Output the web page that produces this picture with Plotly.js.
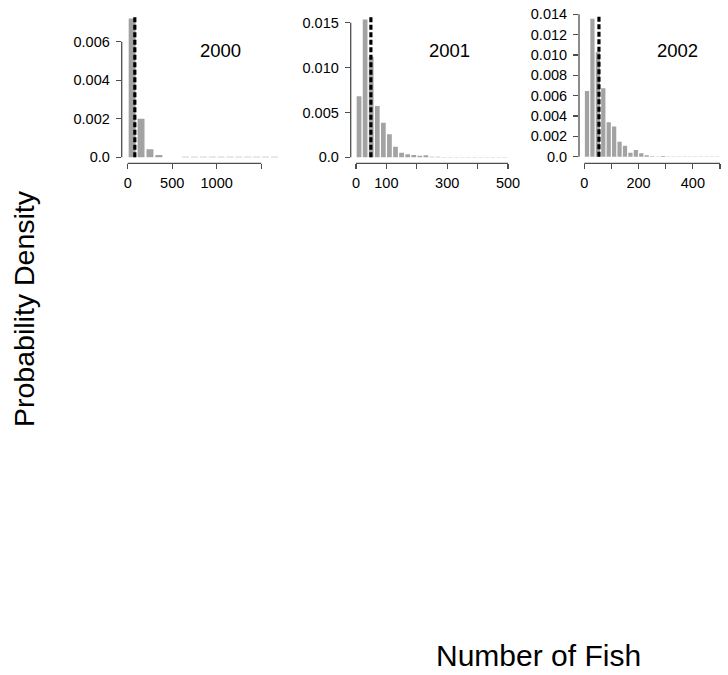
<!DOCTYPE html>
<html>
<head>
<meta charset="utf-8">
<script src="https://cdn.plot.ly/plotly-3.0.1.min.js"></script>
<style>html,body{margin:0;padding:0;background:#fff;}#chart{width:728px;height:675px;}</style>
</head>
<body>
<div id="chart"></div>
<script>
// ---- Data ----
const years = ["2000", "2001", "2002"];

// bin lower edges and densities
const binWidth2000 = 100;
const binStarts2000 = [0,100,200,300,400,500,600,700,800,900,1000,1100,1200,1300,1400,1500,1600];
const density2000 = [0.0072,0.0020,0.00042,0.00012,0.0,0.0,0.00003,0.00003,0.00003,0.00003,0.00003,0.00003,0.00003,0.00003,0.00003,0.00003,0.00003];

const binWidth2001 = 20;
const binStarts2001 = [0,20,40,60,80,100,120,140,160,180,200,220,240,260,280,300,320,340,360,380,400,420,440,460,480];
const density2001 = [0.0068,0.01537,0.0112,0.00573,0.00384,0.00256,0.00118,0.00051,0.00033,0.00027,0.00018,0.00022,0.00005,0.00005,0.00004,0.00004,0.00004,0.00004,0.00004,0.00004,0.00004,0.00004,0.00004,0.00004,0.00004];

const binWidth2002 = 20;
const binStarts2002 = [0,20,40,60,80,100,120,140,160,180,200,220,240,260,280,300,320,340,360,380,400,420,440,460,480];
const density2002 = [0.00647,0.01357,0.01028,0.00674,0.00339,0.00296,0.00148,0.00108,0.00039,0.00066,0.00033,0.00015,0.00005,0.00003,0.00008,0.00003,0.00003,0.00003,0.00003,0.00003,0.00003,0.00003,0.00003,0.00003,0.00003];

// mean (dashed line) and its top
const meanValues = [80, 49, 54];
const meanLineTops = [0.00728, 0.0156, 0.0138];

// tick values / labels
const xTickVals2000 = [0,500,1000,1500];
const xTickText2000 = ["0","500","1000",""];
const xTickVals2001 = [0,100,200,300,400,500];
const xTickText2001 = ["0","100","","300","","500"];
const xTickVals2002 = [0,100,200,300,400,500];
const xTickText2002 = ["0","","200","","400",""];
const yTickVals2000 = [0,0.002,0.004,0.006];
const yTickText2000 = ["0.0","0.002","0.004","0.006"];
const yTickVals2001 = [0,0.005,0.010,0.015];
const yTickText2001 = ["0.0","0.005","0.010","0.015"];
const yTickVals2002 = [0,0.002,0.004,0.006,0.008,0.010,0.012,0.014];
const yTickText2002 = ["0.0","0.002","0.004","0.006","0.008","0.010","0.012","0.014"];

// ---- Layout geometry ----
const W = 728, H = 675;
const fx = px => px / W;
const fy = py => 1 - py / H;

const panels = [
  {starts: binStarts2000, bw: binWidth2000, dens: density2000,
   xtv: xTickVals2000, xtt: xTickText2000, ytv: yTickVals2000, ytt: yTickText2000,
   left: 121.7, right: 282, top: 15, bottom: 163.3,
   xr: [-67.4, 1734], yr: [-0.000311, 0.007386], label: {x: 221, y: 50}},
  {starts: binStarts2001, bw: binWidth2001, dens: density2001,
   xtv: xTickVals2001, xtt: xTickText2001, ytv: yTickVals2001, ytt: yTickText2001,
   left: 350.7, right: 512, top: 15, bottom: 163.3,
   xr: [-17.4, 513.2], yr: [-0.000669, 0.01586], label: {x: 449, y: 50}},
  {starts: binStarts2002, bw: binWidth2002, dens: density2002,
   xtv: xTickVals2002, xtt: xTickText2002, ytv: yTickVals2002, ytt: yTickText2002,
   left: 579, right: 722, top: 12, bottom: 163.3,
   xr: [-19.5, 507.4], yr: [-0.000649, 0.014227], label: {x: 677, y: 50}}
];

const traces = [];
const shapes = [];
const annotations = [];
const layout = {
  width: W, height: H,
  margin: {l: 0, r: 0, t: 0, b: 0},
  paper_bgcolor: "#fff", plot_bgcolor: "rgba(0,0,0,0)",
  showlegend: false,
  bargap: 0.22,
  font: {family: "Liberation Sans, Arial, sans-serif", color: "#000"}
};

const axisColor = "#4d4d4d";
const tickFont = {family: "Liberation Sans, Arial, sans-serif", size: 14.5, color: "#000"};

panels.forEach((p, i) => {
  const n = i + 1;
  const xa = "x" + (n === 1 ? "" : n);
  const ya = "y" + (n === 1 ? "" : n);
  const xKey = "xaxis" + (n === 1 ? "" : n);
  const yKey = "yaxis" + (n === 1 ? "" : n);

  traces.push({
    type: "bar",
    x: p.starts.map(s => s + p.bw / 2),
    y: p.dens,
    xaxis: xa, yaxis: ya,
    marker: {color: "#a3a3a3", line: {width: 0}},
    hoverinfo: "x+y"
  });
  traces.push({
    type: "scatter", mode: "lines",
    x: [meanValues[i], meanValues[i]],
    y: [0, meanLineTops[i]],
    xaxis: xa, yaxis: ya,
    line: {color: "#000", width: 3.2, dash: "5px,2.5px"},
    hoverinfo: "x"
  });

  layout[xKey] = {
    domain: [fx(p.left), fx(p.right)],
    range: p.xr, anchor: ya,
    showgrid: false, zeroline: false, showline: false,
    ticks: "outside", ticklen: 5, tickwidth: 1.3, tickcolor: axisColor,
    tickmode: "array", tickvals: p.xtv, ticktext: p.xtt,
    tickfont: tickFont, ticklabelstandoff: 1, fixedrange: true
  };
  layout[yKey] = {
    domain: [fy(p.bottom), fy(p.top)],
    range: p.yr, anchor: xa,
    showgrid: false, zeroline: false, showline: false,
    ticks: "outside", ticklen: 5, tickwidth: 1.3, tickcolor: axisColor,
    tickmode: "array", tickvals: p.ytv, ticktext: p.ytt,
    tickfont: tickFont, ticklabelstandoff: 3, fixedrange: true
  };

  // R-style axis lines spanning first to last tick
  shapes.push({type: "line", xref: xa, yref: ya + " domain",
    x0: p.xtv[0], x1: p.xtv[p.xtv.length - 1], y0: 0, y1: 0,
    line: {color: axisColor, width: 1.3}});
  shapes.push({type: "line", xref: xa + " domain", yref: ya,
    x0: 0, x1: 0, y0: p.ytv[0], y1: p.ytv[p.ytv.length - 1],
    line: {color: axisColor, width: 1.3}});

  annotations.push({text: years[i], xref: "paper", yref: "paper",
    x: fx(p.label.x), y: fy(p.label.y), xanchor: "center", yanchor: "middle",
    showarrow: false, font: {size: 18.5, color: "#000"}});
});

annotations.push({text: "Probability Density", xref: "paper", yref: "paper",
  x: fx(24), y: fy(309), xanchor: "center", yanchor: "middle", textangle: -90,
  showarrow: false, font: {size: 28.5, color: "#000"}});
annotations.push({text: "Number of Fish", xref: "paper", yref: "paper",
  x: fx(538), y: fy(655), xanchor: "center", yanchor: "middle",
  showarrow: false, font: {size: 30, color: "#000"}});

layout.shapes = shapes;
layout.annotations = annotations;

Plotly.newPlot("chart", traces, layout, {displayModeBar: false, staticPlot: true});
</script>
</body>
</html>
